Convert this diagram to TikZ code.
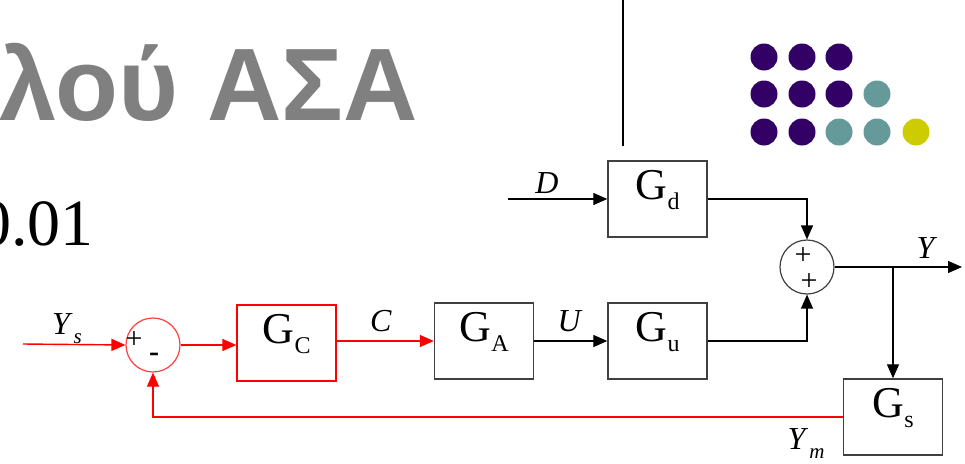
\documentclass[tikz,border=0pt]{standalone}
\usepackage{fontspec}
\setmainfont{Liberation Serif}
\newfontfamily\titlefont{Liberation Sans}
\usetikzlibrary{arrows.meta,positioning}
\definecolor{dotpurple}{HTML}{330066}
\definecolor{dotteal}{HTML}{669999}
\definecolor{dotyellow}{HTML}{CCCC00}
\definecolor{titlegray}{HTML}{808080}
\definecolor{sigred}{HTML}{FF0000}
\definecolor{edgegray}{HTML}{404040}
\newcommand{\gsub}[1]{G\kern0.5pt\raisebox{-10pt}{\fontsize{24}{25}\selectfont #1}}
\newcommand{\sigsub}[2]{\textit{#1}\kern1pt\raisebox{-9pt}{\fontsize{21}{22}\selectfont\textit{#2}}}

\begin{document}
\begin{tikzpicture}[x=1pt,y=-1pt,
  font=\fontsize{32}{34}\selectfont,
  block/.style={draw=edgegray,line width=1.4pt,minimum width=99pt,minimum height=76pt,
    inner sep=0pt,text height=29pt,text depth=29pt,font=\fontsize{44}{46}\selectfont},
  redblock/.style={block,draw=sigred},
  sumnode/.style={circle,draw=edgegray,line width=1.2pt,minimum size=54pt,inner sep=0pt},
  redsum/.style={sumnode,draw=sigred!75},
  sgn/.style={font=\fontsize{30}{30}\selectfont,inner sep=0pt},
  lbl/.style={anchor=base,inner sep=0pt},
  ar/.style={-{Triangle[length=14pt,width=12pt]},line width=1.3pt},
  arred/.style={ar,sigred,line width=1.4pt}]
\clip (0,0) rectangle (965,463);

% slide header
\node[anchor=base east,inner sep=0pt,text=titlegray,font=\titlefont\bfseries\fontsize{103}{106}\selectfont] (title) at (418,120) {λού ΑΣΑ};
\node[anchor=base east,inner sep=0pt,font=\fontsize{66}{68}\selectfont] (val) at (94,245) {0.01};
\coordinate (sepT) at (623,0);
\coordinate (sepB) at (623,146);
\draw[line width=2.5pt] (sepT) -- (sepB);
\foreach \x/\y/\col in {764/57/dotpurple,802/57/dotpurple,839/57/dotpurple,
  764/94/dotpurple,802/94/dotpurple,839/94/dotpurple,877/94/dotteal,
  764/132/dotpurple,802/132/dotpurple,839/132/dotteal,877/132/dotteal,916/132/dotyellow}
  \fill[\col] (\x,\y) circle (13.5);

% blocks
\node[block] (gd) at (657.5,199) {\gsub{d}};
\node[block] (gu) at (657.5,341) {\gsub{u}};
\node[block] (ga) at (484,341) {\gsub{A}};
\node[redblock] (gc) at (286.5,343) {\gsub{C}};
\node[block] (gs) at (893,417) {\gsub{s}};

% summing junctions
\node[sumnode] (sumy) at (807,267) {};
\node[sgn] (py1) at (803,256) {+};
\node[sgn] (py2) at (809,282) {+};
\node[redsum] (sume) at (153,345) {};
\node[sgn] (pe) at (134,340) {+};
\node[sgn,font=\bfseries\fontsize{30}{30}\selectfont] (me) at (154,357) {-};

% connectors
\coordinate (din) at (508,199);
\coordinate (yout) at (962,267);
\coordinate (ybr) at (893,267);
\coordinate (ysin) at (23,344);
\draw[ar] (din) -- (gd.west);
\draw[ar] (gd.east) -| (sumy.north);
\draw[ar] (gu.east) -| (sumy.south);
\draw[ar] (sumy.east) -- (yout);
\draw[ar] (ybr) -- (gs.north);
\draw[ar] (ga.east) -- (gu.west);
\draw[arred] (gc.east |- ga.west) -- (ga.west);
\draw[arred] (sume.east) -- (gc.west |- sume.east);
\draw[arred] (ysin) -- (sume.west);
\draw[arred,line width=1.2pt] (gs.west) -| (sume.south);

% signal labels
\node[lbl] (ld) at (547,193) {\textit{D}};
\node[lbl] (ly) at (927,258) {\textit{Y}};
\node[lbl] (lc) at (381,331) {\textit{C}};
\node[lbl] (lu) at (570,331) {\textit{U}};
\node[lbl] (lys) at (67,334) {\sigsub{Y}{s}};
\node[lbl] (lym) at (806,449) {\sigsub{Y}{m}};
\end{tikzpicture}
\end{document}
